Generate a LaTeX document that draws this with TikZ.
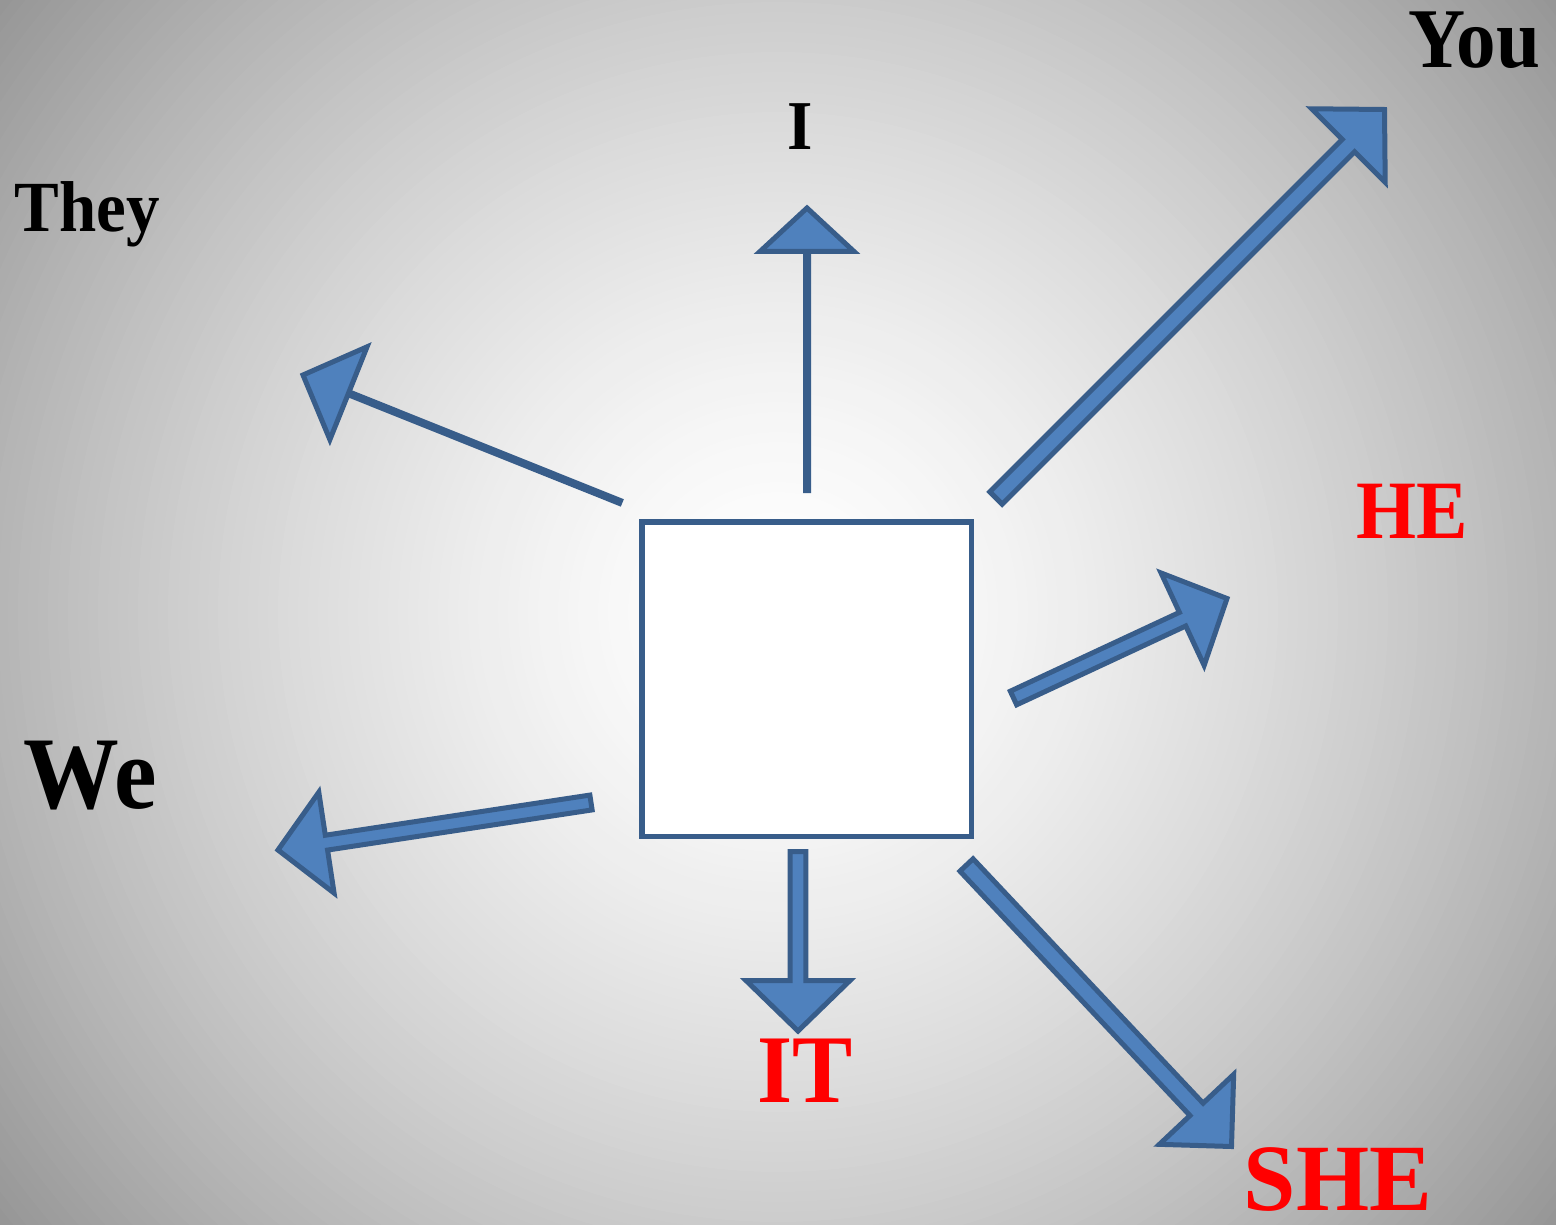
\documentclass[tikz,border=0pt]{standalone}
\usepackage{fontspec}
\usepackage{graphicx}
\setmainfont{Liberation Serif}
\usetikzlibrary{calc}
\definecolor{afill}{HTML}{4F81BD}
\definecolor{aline}{HTML}{385D8A}
\tikzset{
  blockarrow/.style={fill=afill, draw=aline, line width=5pt, line join=miter},
  centerbox/.style={draw=aline, fill=white, line width=5.5pt, inner sep=0pt},
  lbl/.style={anchor=base, inner sep=0pt, font=\bfseries},
}
% #1 tail, #2 tip, #3 shaft half-width, #4 head half-width, #5 head length
\newcommand{\blockarr}[5]{%
  \coordinate (bb) at ($(#2)!#5!(#1)$);
  \draw[blockarrow] ($(#1)!#3!90:(#2)$) -- ($(bb)!#3!90:(#2)$) -- ($(bb)!#4!90:(#2)$) -- (#2)
    -- ($(bb)!#4!-90:(#2)$) -- ($(bb)!#3!-90:(#2)$) -- ($(#1)!#3!-90:(#2)$) -- cycle;
}
\newcommand{\lbltext}[3][0.93]{\fontsize{#2}{#2}\selectfont\scalebox{#1}[1]{#3}}
\begin{document}
\begin{tikzpicture}[x=1pt,y=-1pt]
\useasboundingbox (0,0) rectangle (1556,1225);
\begin{scope}
  \clip (0,0) rectangle (1556,1225);
  \fill[white!58!black] (0,0) rectangle (1556,1225);
  \foreach \r in {1000,990,...,10} {
    \pgfmathsetmacro{\g}{100*(1 - 55/255*(\r/645)^1.5)}
    \fill[white!\g!black] (778,612) circle (\r pt);
  }
\end{scope}

\node[centerbox, minimum width=329.5pt, minimum height=314.5pt] (box) at (806.75,679.25) {};

% labels
\node[lbl] (i)    at (800,150)  {\lbltext{70}{I}};
\node[lbl] (they) at (87,232)   {\lbltext{72}{They}};
\node[lbl] (you)  at (1474,68)  {\lbltext{85}{You}};
\node[lbl, text=red] (he)  at (1412,538)  {\lbltext{83}{HE}};
\node[lbl] (we)   at (90,808)   {\lbltext{103}{We}};
\node[lbl, text=red] (it)  at (805,1102) {\lbltext{97}{IT}};
\node[lbl, text=red] (she) at (1338,1210) {\lbltext[0.99]{95}{SHE}};

% arrow end points
\coordinate (iT)    at (807,490.5);   \coordinate (iP)    at (807,208);
\coordinate (theyT) at (620,502);     \coordinate (theyP) at (303,375);
\coordinate (youT)  at (996,498);     \coordinate (youP)  at (1384.5,109.5);
\coordinate (heT)   at (1013.5,698);  \coordinate (heP)   at (1227,598.5);
\coordinate (weT)   at (591,802.5);   \coordinate (weP)   at (278,850);
\coordinate (itT)   at (798,851.5);   \coordinate (itP)   at (798,1031);
\coordinate (sheT)  at (966.5,865);   \coordinate (sheP)  at (1231.5,1146.5);

\blockarr{iT}{iP}{1.5pt}{47pt}{43.5pt}
\blockarr{theyT}{theyP}{1.5pt}{50pt}{49pt}
\blockarr{youT}{youP}{8.8pt}{52pt}{51pt}
\blockarr{heT}{heP}{7.5pt}{51pt}{49pt}
\blockarr{weT}{weP}{7.5pt}{51pt}{49pt}
\blockarr{itT}{itP}{7.8pt}{52pt}{50.5pt}
\blockarr{sheT}{sheP}{9pt}{51pt}{51pt}
\end{tikzpicture}
\end{document}
